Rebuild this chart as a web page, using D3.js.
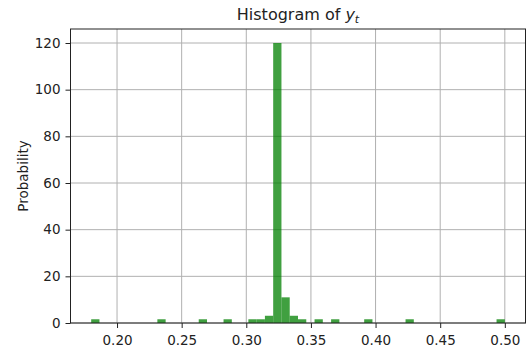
<!DOCTYPE html>
<html>
<head>
<meta charset="utf-8">
<script src="https://cdn.jsdelivr.net/npm/d3@7"></script>
<style>
  body { margin: 0; background: #fff; }
  text { font-family: "DejaVu Sans", sans-serif; }
</style>
</head>
<body>
<svg id="chart" width="527" height="358"></svg>
<script>
// histogram bins (left edge) and density heights
const binWidth = 0.0064;
const binStarts = [0.1800, 0.2312, 0.2632, 0.2824, 0.3016, 0.3080, 0.3144, 0.3208, 0.3272, 0.3336, 0.3400, 0.3528, 0.3656, 0.3912, 0.4232, 0.4936];
const binHeights = [1.6, 1.6, 1.6, 1.6, 1.6, 1.6, 3.1, 120, 11, 3.1, 1.6, 1.6, 1.6, 1.6, 1.6, 1.6];
const xTicks = [0.20, 0.25, 0.30, 0.35, 0.40, 0.45, 0.50];
const yTicks = [0, 20, 40, 60, 80, 100, 120];

const bins = binStarts.map((x0, i) => ({ x0: x0, x1: x0 + binWidth, h: binHeights[i] }));

const width = 527, height = 358;
const margin = { top: 29, right: 1.5, bottom: 35, left: 70.5 };

const svg = d3.select("#chart");

// matplotlib style 5% margins on x
const xMin = d3.min(bins, d => d.x0), xMax = d3.max(bins, d => d.x1);
const pad = (xMax - xMin) * 0.05;
const xScale = d3.scaleLinear()
    .domain([xMin - pad, xMax + pad])
    .range([margin.left, width - margin.right]);

const yScale = d3.scaleLinear()
    .domain([0, 126])
    .range([height - margin.bottom, margin.top]);

// grid
svg.append("g")
    .selectAll("line.gx")
    .data(xTicks)
    .enter().append("line")
    .attr("x1", d => xScale(d)).attr("x2", d => xScale(d))
    .attr("y1", margin.top).attr("y2", height - margin.bottom)
    .attr("stroke", "#b0b0b0").attr("stroke-width", 1);

svg.append("g")
    .selectAll("line.gy")
    .data(yTicks)
    .enter().append("line")
    .attr("x1", margin.left).attr("x2", width - margin.right)
    .attr("y1", d => yScale(d)).attr("y2", d => yScale(d))
    .attr("stroke", "#b0b0b0").attr("stroke-width", 1);

// bars, green with alpha so the grid shows through
svg.append("g")
    .selectAll("rect")
    .data(bins)
    .enter().append("rect")
    .attr("x", d => xScale(d.x0))
    .attr("width", d => xScale(d.x1) - xScale(d.x0))
    .attr("y", d => yScale(d.h))
    .attr("height", d => yScale(0) - yScale(d.h))
    .attr("fill", "#008000")
    .attr("fill-opacity", 0.75);

// axes
const xAxis = d3.axisBottom(xScale)
    .tickValues(xTicks)
    .tickFormat(d3.format(".2f"))
    .tickSize(5)
    .tickPadding(7);

const yAxis = d3.axisLeft(yScale)
    .tickValues(yTicks)
    .tickSize(5)
    .tickPadding(5);

const gx = svg.append("g")
    .attr("transform", `translate(0,${height - margin.bottom})`)
    .call(xAxis);

const gy = svg.append("g")
    .attr("transform", `translate(${margin.left},0)`)
    .call(yAxis);

[gx, gy].forEach(g => {
    g.select(".domain").remove();
    g.selectAll("line").attr("stroke", "#222").attr("stroke-width", 1);
    g.selectAll("text")
        .attr("font-family", "DejaVu Sans, sans-serif")
        .attr("font-size", 13.5)
        .attr("fill", "#222");
});

// frame
svg.append("rect")
    .attr("x", margin.left)
    .attr("y", margin.top)
    .attr("width", width - margin.left - margin.right)
    .attr("height", height - margin.top - margin.bottom)
    .attr("fill", "none")
    .attr("stroke", "#222")
    .attr("stroke-width", 1);

// title: Histogram of y_t
const title = svg.append("text")
    .attr("x", (margin.left + width - margin.right) / 2)
    .attr("y", 20)
    .attr("text-anchor", "middle")
    .attr("font-size", 16)
    .attr("fill", "#222");
title.append("tspan").text("Histogram of ");
title.append("tspan").attr("font-style", "italic").text("y");
title.append("tspan").attr("font-style", "italic").attr("font-size", 11).attr("dy", 3).text("t");

// y label
svg.append("text")
    .attr("transform", `translate(23,${(margin.top + height - margin.bottom) / 2}) rotate(-90)`)
    .attr("text-anchor", "middle")
    .attr("dy", "0.35em")
    .attr("font-size", 13.5)
    .attr("fill", "#222")
    .text("Probability");
</script>
</body>
</html>
